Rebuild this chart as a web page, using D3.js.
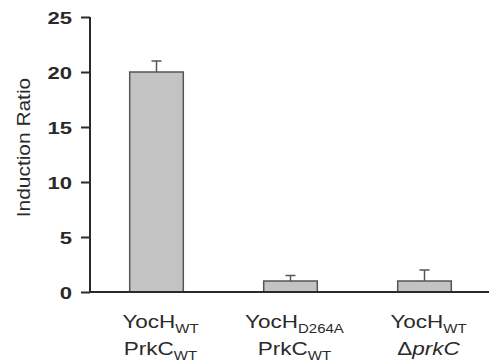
<!DOCTYPE html>
<html><head><meta charset="utf-8">
<script src="https://cdn.jsdelivr.net/npm/d3@7"></script>
<style>body{margin:0;background:#fff}svg{display:block}</style>
</head><body>
<script>
const categories = ["c1","c2","c3"];
const values = [20, 1, 1];
const errors = [1, 0.5, 1];
const line1Main = ["YocH","YocH","YocH"];
const line1Sub = ["WT","D264A","WT"];
const line2Main = ["PrkC","PrkC","\u0394prkC"];
const line2Sub = ["WT","WT",""];
const yTicks = [0,5,10,15,20,25];
const yTitle = "Induction Ratio";

const W=489,H=364;
const svg=d3.select("body").append("svg").attr("width",W).attr("height",H);
const y=d3.scaleLinear().domain([0,25]).range([292,17]);
const x=d3.scaleBand().domain(categories).range([89.5,491.5]).paddingInner(0.6).paddingOuter(0.3);
const font="Liberation Sans, Arial, sans-serif";
const ink="#2a2a2a";

// bars
svg.selectAll("rect.bar").data(values).join("rect")
  .attr("x",(d,i)=>x(categories[i])).attr("width",x.bandwidth())
  .attr("y",d=>y(d)).attr("height",d=>y(0)-y(d))
  .attr("fill","#c3c3c3").attr("stroke","#555").attr("stroke-width",1.5);
// error bars
const eg=svg.append("g").attr("stroke","#555").attr("stroke-width",1.5);
values.forEach((v,i)=>{
  const cx=x(categories[i])+x.bandwidth()/2;
  eg.append("line").attr("x1",cx).attr("x2",cx).attr("y1",y(v)).attr("y2",y(v+errors[i]));
  eg.append("line").attr("x1",cx-5).attr("x2",cx+5).attr("y1",y(v+errors[i])).attr("y2",y(v+errors[i]));
});

// y axis
const ya=svg.append("g").attr("transform","translate(90,0)")
  .call(d3.axisLeft(y).tickValues(yTicks).tickSize(9).tickPadding(0).tickFormat(d3.format("d")));
ya.select(".domain").attr("stroke",ink).attr("stroke-width",2).attr("d","M0,"+y(25)+"V"+y(0));
ya.selectAll(".tick line").attr("stroke",ink).attr("stroke-width",2);
ya.selectAll(".tick text").remove();
ya.selectAll(".tick").append("g").attr("transform","translate(-18,0) scale(1.3,1)")
  .append("text").attr("text-anchor","end").attr("dy","0.36em")
  .attr("font-family",font).attr("font-weight","bold").attr("font-size",17).attr("fill",ink)
  .text(d=>d);

// x axis line
svg.append("line").attr("x1",89).attr("x2",489).attr("y1",y(0)).attr("y2",y(0))
  .attr("stroke",ink).attr("stroke-width",2);

// y title
svg.append("g").attr("transform","translate(30,147.5) rotate(-90) scale(1.1,1)")
  .append("text").attr("text-anchor","middle").attr("font-family",font).attr("font-size",19).attr("fill",ink)
  .text(yTitle);

// x labels
categories.forEach((c,i)=>{
  const cx=x(c)+x.bandwidth()/2+4;
  [[line1Main,line1Sub,328],[line2Main,line2Sub,355]].forEach(([m,s,by])=>{
    const t=svg.append("g").attr("transform",`translate(${cx},${by}) scale(1.25,1)`)
      .append("text").attr("text-anchor","middle").attr("font-family",font).attr("font-size",18).attr("fill",ink);
    const mt=m[i];
    if(mt.startsWith("\u0394")){
      t.append("tspan").text("\u0394");
      t.append("tspan").attr("font-style","italic").text(mt.slice(1));
    } else t.append("tspan").text(mt);
    if(s[i]) t.append("tspan").attr("font-size",12).attr("dy",5).text(s[i]);
  });
});
</script>
</body></html>
